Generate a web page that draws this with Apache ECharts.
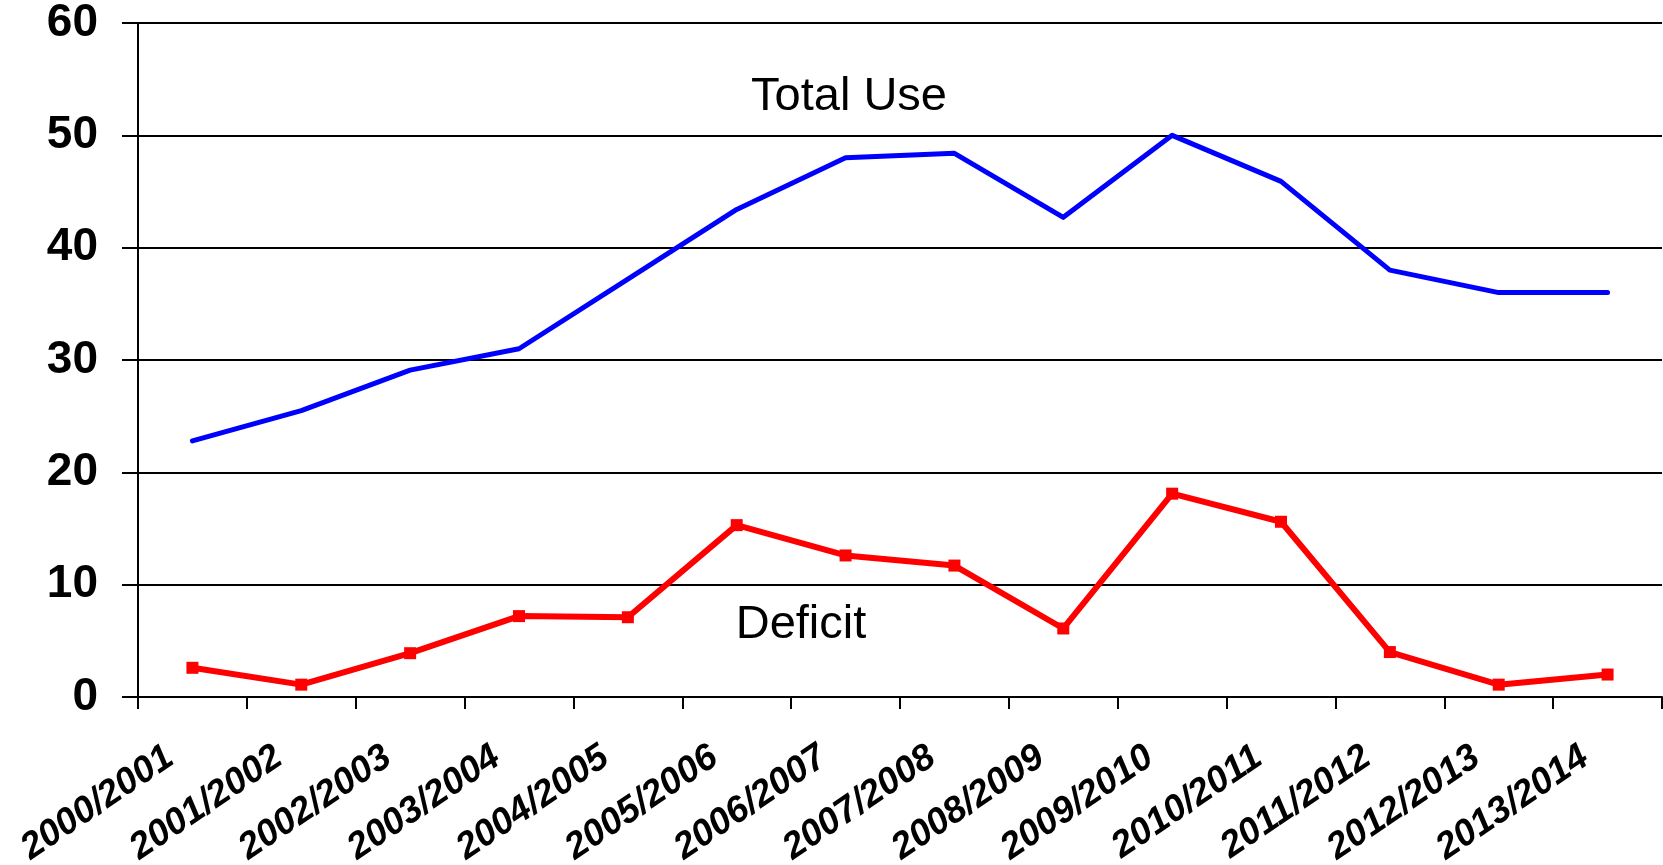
<!DOCTYPE html>
<html>
<head>
<meta charset="utf-8">
<title>Total Use and Deficit, 2000/2001 - 2013/2014</title>
<script src="https://cdn.jsdelivr.net/npm/echarts@6/dist/echarts.min.js"></script>
<style>
  html, body { margin: 0; padding: 0; background: #ffffff; }
  #chart { width: 1663px; height: 865px; }
</style>
</head>
<body>
<div id="chart"></div>
<script>
// Marketing years on the category axis
const seasons = [
  '2000/2001', '2001/2002', '2002/2003', '2003/2004', '2004/2005',
  '2005/2006', '2006/2007', '2007/2008', '2008/2009', '2009/2010',
  '2010/2011', '2011/2012', '2012/2013', '2013/2014'
];

// Total use per season
const totalUse = [22.8, 25.5, 29.1, 31.0, 37.2, 43.4, 48.0, 48.4, 42.7, 50.0, 45.9, 38.0, 36.0, 36.0];

// Deficit per season
const deficit = [2.6, 1.1, 3.9, 7.2, 7.1, 15.3, 12.6, 11.7, 6.1, 18.1, 15.6, 4.0, 1.1, 2.0];

// Value axis range and step
const yMin = 0;
const yMax = 60;
const yStep = 10;

// Series captions written inside the plot
const captionTotal = 'Total Use';
const captionDeficit = 'Deficit';

const chart = echarts.init(document.getElementById('chart'), null, { renderer: 'canvas' });

const FONT = '"Liberation Sans", Arial, Helvetica, sans-serif';

chart.setOption({
  animation: false,
  backgroundColor: '#ffffff',
  grid: {
    left: 138, right: 1, top: 23, bottom: 168,
    containLabel: false,
    outerBoundsMode: 'none'
  },
  xAxis: {
    type: 'category',
    data: seasons,
    boundaryGap: true,
    axisLine: { show: true, lineStyle: { color: '#000', width: 2 } },
    axisTick: { show: true, alignWithLabel: false, length: 12, lineStyle: { color: '#000', width: 2 } },
    axisLabel: {
      interval: 0,
      rotate: 34,
      margin: 42,
      padding: [0, 27, 0, 0],
      color: '#000',
      fontFamily: FONT,
      fontWeight: 'bold',
      fontStyle: 'italic',
      fontSize: 37
    },
    splitLine: { show: false }
  },
  yAxis: {
    type: 'value',
    min: yMin,
    max: yMax,
    interval: yStep,
    axisLine: { show: true, lineStyle: { color: '#000', width: 2 } },
    axisTick: { show: true, length: 16, lineStyle: { color: '#000', width: 2 } },
    axisLabel: {
      margin: 40,
      color: '#000',
      fontFamily: FONT,
      fontWeight: 'bold',
      fontSize: 46
    },
    splitLine: { show: true, lineStyle: { color: '#000', width: 2 } }
  },
  series: [
    {
      name: captionTotal,
      type: 'line',
      data: totalUse,
      showSymbol: false,
      symbol: 'none',
      lineStyle: { color: '#0000ff', width: 5, cap: 'round', join: 'round' },
      itemStyle: { color: '#0000ff' },
      z: 3
    },
    {
      name: captionDeficit,
      type: 'line',
      data: deficit,
      symbol: 'rect',
      symbolSize: 12,
      lineStyle: { color: '#ff0000', width: 6, join: 'round' },
      itemStyle: { color: '#ff0000' },
      z: 4
    }
  ],
  graphic: [
    {
      type: 'text',
      x: 849,
      y: 97,
      style: {
        text: captionTotal,
        fill: '#000',
        font: '47px ' + FONT,
        align: 'center',
        verticalAlign: 'middle'
      },
      z: 10
    },
    {
      type: 'text',
      x: 801,
      y: 625,
      style: {
        text: captionDeficit,
        fill: '#000',
        font: '47px ' + FONT,
        align: 'center',
        verticalAlign: 'middle'
      },
      z: 10
    }
  ]
});
</script>
</body>
</html>
